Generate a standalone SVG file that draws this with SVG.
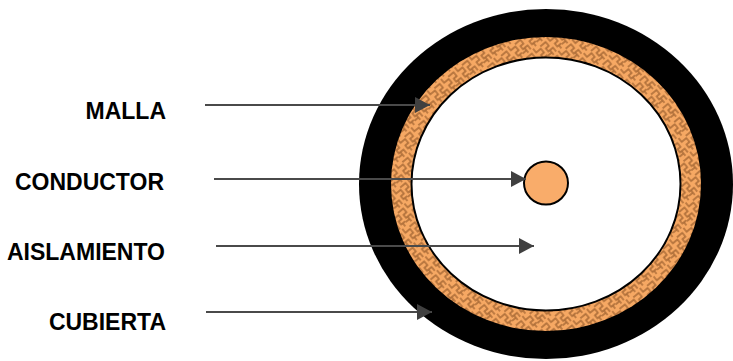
<svg xmlns="http://www.w3.org/2000/svg" width="733" height="361" viewBox="0 0 733 361">
<style>
.t{font:bold 23px "Liberation Sans",Arial,sans-serif;fill:#000;text-anchor:end}
.c{stroke:#4a4a4a;stroke-width:2;fill:none;marker-end:url(#a)}
</style>
<defs>
<marker id="a" markerUnits="userSpaceOnUse" markerWidth="15" markerHeight="16" refX="15" refY="8" orient="auto"><path d="M0 0L15 8L0 16Z" fill="#404040"/></marker>
<pattern id="w" width="18" height="18" patternUnits="userSpaceOnUse" patternTransform="rotate(-40 546 184)">
<rect width="18" height="18" fill="#f6a863"/>
<path d="M0 3H7V8H3V12H9V17M11 0V5H17V10H13V14H18M0 15H5M15 14V18M5 12V18" fill="none" stroke="#a86a36" stroke-width="1.400"/>
</pattern>
</defs>
<g id="cubierta"><ellipse cx="546" cy="184" rx="187" ry="175" fill="#000"/></g>
<g id="malla"><ellipse cx="546" cy="184" rx="155" ry="147" fill="url(#w)"/></g>
<g id="aislamiento"><ellipse cx="546" cy="184" rx="134.500" ry="126.500" fill="#fff" stroke="#000" stroke-width="2"/></g>
<g id="conductor"><ellipse cx="546" cy="183" rx="22" ry="21.500" fill="#f9ac6a" stroke="#000" stroke-width="2"/></g>
<g id="connectors">
<path class="c" d="M205 105H430"/>
<path class="c" d="M214 179H526"/>
<path class="c" d="M216 246H534"/>
<path class="c" d="M206 312H432"/>
</g>
<g id="labels">
<text class="t" x="166" y="119">MALLA</text>
<text class="t" x="164" y="190">CONDUCTOR</text>
<text class="t" x="165" y="260">AISLAMIENTO</text>
<text class="t" x="166" y="330">CUBIERTA</text>
</g>
</svg>
